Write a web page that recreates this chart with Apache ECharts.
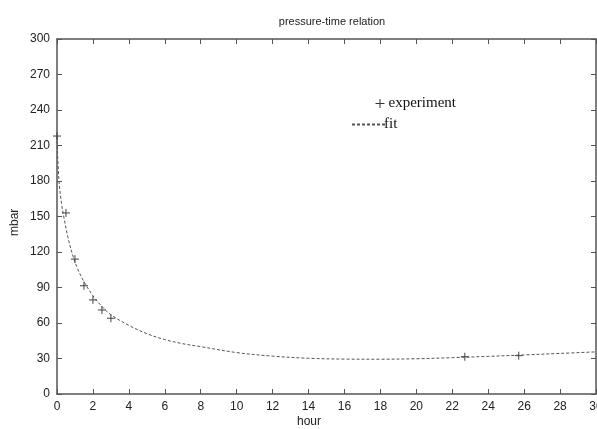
<!DOCTYPE html>
<html>
<head>
<meta charset="utf-8">
<script src="https://cdn.jsdelivr.net/npm/echarts@6/dist/echarts.min.js"></script>
<style>
  html, body { margin: 0; padding: 0; background: #fff; }
  #chart { width: 597px; height: 429px; }
</style>
</head>
<body>
<div id="chart"></div>
<script>
// Measured pressure (mbar) against elapsed time (hour)
const expHours = [0, 0.5, 1, 1.5, 2, 2.5, 3, 22.7, 25.7];
const expPressure = [218, 153, 114, 91.5, 79.5, 71, 64, 31.5, 32.4];

// Fitted pressure curve sampled along the time axis
const fitHours = [0, 0.1, 0.25, 0.4, 0.6, 0.9, 1.2, 1.5, 2, 2.5, 3, 4, 5, 6, 7, 8, 10, 12, 14, 16, 18, 20, 22, 24, 26, 28, 30];
const fitPressure = [218, 182, 161, 148, 133, 116, 104, 95, 83, 74, 67, 58, 51, 46, 42.5, 40, 35, 32, 30.2, 29.5, 29.4, 29.8, 30.7, 31.8, 33, 34.3, 35.6];

// Axis tick settings
const xTickStep = 2, xMax = 30;
const yTickStep = 30, yMax = 300;

const zip = (a, b) => a.map((v, i) => [v, b[i]]);

const frameColor = '#555';
const labelFont = { color: '#222', fontSize: 12, fontFamily: 'Liberation Sans, Arial, sans-serif' };
const plusPath = 'path://M0,5L10,5M5,0L5,10';

function xAxisDef(pos, showLabel) {
  return {
    type: 'value', position: pos, min: 0, max: xMax, interval: xTickStep,
    axisLine: { show: true, onZero: false, lineStyle: { color: frameColor, width: 1.5 } },
    axisTick: { show: true, inside: true, length: 5, lineStyle: { color: frameColor, width: 1 } },
    axisLabel: Object.assign({ show: showLabel, margin: 7 }, labelFont),
    splitLine: { show: false }
  };
}
function yAxisDef(pos, showLabel) {
  return {
    type: 'value', position: pos, min: 0, max: yMax, interval: yTickStep,
    axisLine: { show: true, onZero: false, lineStyle: { color: frameColor, width: 1.5 } },
    axisTick: { show: true, inside: true, length: 5, lineStyle: { color: frameColor, width: 1 } },
    axisLabel: Object.assign({ show: showLabel, margin: 7 }, labelFont),
    splitLine: { show: false }
  };
}

const chart = echarts.init(document.getElementById('chart'), null, { renderer: 'canvas' });
chart.setOption({
  backgroundColor: '#fff',
  animation: false,
  title: {
    text: 'pressure-time relation',
    left: 327, top: 11, textAlign: 'center',
    textStyle: { fontSize: 11, fontWeight: 'normal', color: '#222', fontFamily: 'Liberation Sans, Arial, sans-serif' }
  },
  grid: { left: 57, right: 1, top: 39, bottom: 35, containLabel: false, outerBoundsMode: 'none' },
  xAxis: [xAxisDef('bottom', true), xAxisDef('top', false)],
  yAxis: [yAxisDef('left', true), yAxisDef('right', false)],
  legend: [
    {
      data: [{ name: 'experiment', icon: plusPath }],
      left: 368, top: 91, itemWidth: 9, itemHeight: 9, itemGap: 0,
      textStyle: { fontFamily: 'Liberation Serif, Times New Roman, serif', fontSize: 15, color: '#111', padding: [0, 0, 0, -1] },
      itemStyle: { color: 'none', borderColor: '#333', borderWidth: 1 }
    },
    {
      data: [{ name: 'fit' }],
      left: 346, top: 112, itemWidth: 33, itemHeight: 2, itemGap: 0,
      textStyle: { fontFamily: 'Liberation Serif, Times New Roman, serif', fontSize: 15, color: '#111', padding: [0, 0, 0, -6] }
    }
  ],
  graphic: [
    {
      type: 'text', left: 297, top: 416,
      style: { text: 'hour', fill: '#222', font: '12px "Liberation Sans", Arial, sans-serif' }
    },
    {
      type: 'text', x: 9, y: 236, rotation: Math.PI / 2,
      style: { text: 'mbar', fill: '#222', font: '12px "Liberation Sans", Arial, sans-serif' }
    }
  ],
  series: [
    {
      name: 'fit', type: 'line', xAxisIndex: 0, yAxisIndex: 0,
      data: zip(fitHours, fitPressure),
      showSymbol: false, symbol: 'none', smooth: 0.35,
      lineStyle: { color: '#555', width: 1, type: [3, 2] },
      itemStyle: { color: '#555' },
      z: 2
    },
    {
      name: 'experiment', type: 'scatter', xAxisIndex: 0, yAxisIndex: 0,
      data: zip(expHours, expPressure),
      symbol: plusPath, symbolSize: 8,
      itemStyle: { color: 'none', borderColor: '#444', borderWidth: 1, opacity: 1 },
      z: 3
    }
  ]
});
</script>
</body>
</html>
